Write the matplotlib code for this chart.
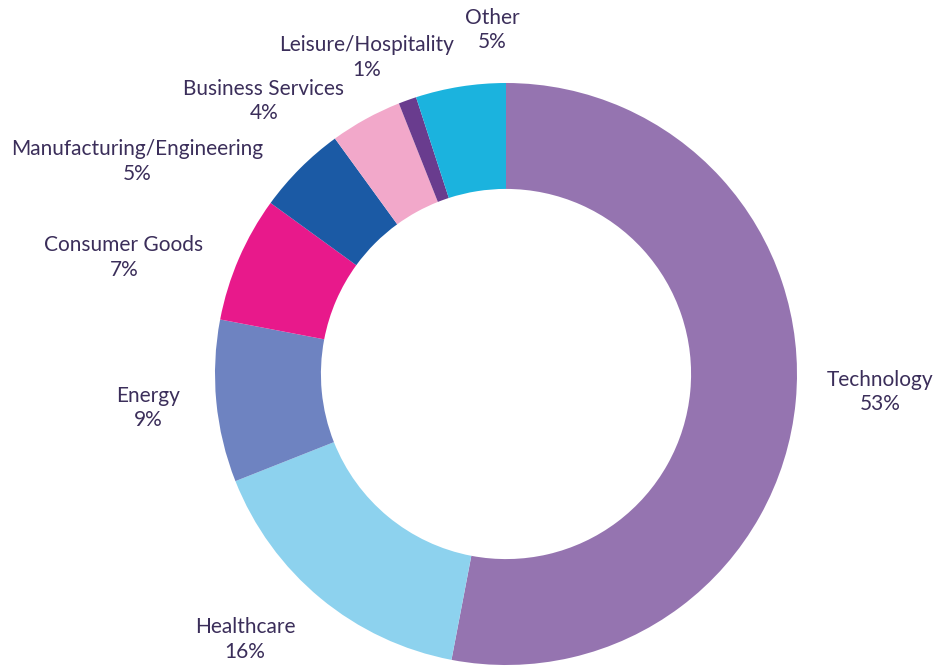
import matplotlib
matplotlib.use("Agg")
import matplotlib.pyplot as plt

categories = ["Technology", "Healthcare", "Energy", "Consumer Goods",
              "Manufacturing/Engineering", "Business Services",
              "Leisure/Hospitality", "Other"]
values = [53, 16, 9, 7, 5, 4, 1, 5]
colors = ["#9574B0", "#8DD2EE", "#6E83C1", "#E8198B",
          "#1B5AA5", "#F2A8CA", "#693C8E", "#1BB3DE"]
# label block centres, in units of the outer radius (layout only)
label_pos = [(1.285, -0.062), (-0.897, -0.911), (-1.230, -0.117),
             (-1.313, 0.399), (-1.268, 0.729), (-0.832, 0.938),
             (-0.478, 1.089), (-0.048, 1.182)]

W, H, DPI = 934, 666, 100
cx, cy, R = 506, 374, 291

fig = plt.figure(figsize=(W / DPI, H / DPI), dpi=DPI)
ax = fig.add_axes([0, 0, 1, 1])
ax.pie(values, colors=colors, startangle=90, counterclock=False,
       radius=1.0, wedgeprops=dict(width=0.364, edgecolor="none"))
ax.set_aspect("auto")
ax.set_xlim(-cx / R, (W - cx) / R)
ax.set_ylim(-(H - cy) / R, cy / R)
ax.axis("off")

for cat, v, (lx, ly) in zip(categories, values, label_pos):
    ax.text(lx, ly, f"{cat}\n{v}%", ha="center", va="center",
            fontsize=15, color="#3B2E5A", family=["Lato", "DejaVu Sans"],
            linespacing=1.3)

fig.savefig("out.png", dpi=DPI)
